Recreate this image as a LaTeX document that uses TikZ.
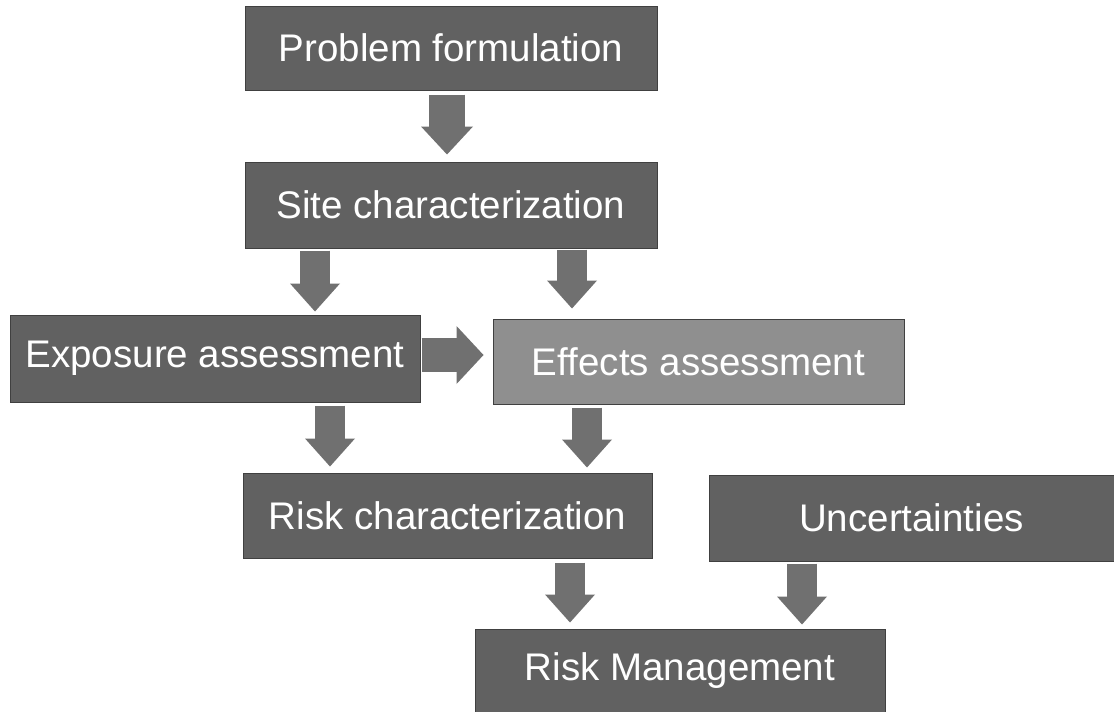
\documentclass[tikz,border=0pt]{standalone}
\usepackage{fontspec}
\setmainfont{Liberation Sans}
\usetikzlibrary{arrows.meta}
\definecolor{boxdark}{gray}{0.38}
\definecolor{boxlight}{gray}{0.56}
\definecolor{arrowgray}{gray}{0.44}
\begin{document}
\begin{tikzpicture}[x=1pt,y=-1pt,
  box/.style={fill=boxdark, draw=black!75, line width=1pt, text=white,
    font=\fontsize{38.5}{44}\selectfont, inner sep=0pt, anchor=center},
  lightbox/.style={box, fill=boxlight},
  barrow/.style={draw=arrowgray, line width=30pt, line cap=butt,
    -{Triangle[width=50pt,length=28pt,line width=0pt]}},
  barrowwide/.style={draw=arrowgray, line width=36pt, line cap=butt,
    -{Triangle[width=52pt,length=28pt,line width=0pt]}},
  harrow/.style={draw=arrowgray, line width=34pt, line cap=butt,
    -{Triangle[width=58pt,length=27pt,line width=0pt]}}]
\useasboundingbox (0,0) rectangle (1114,712);
\fill[white] (0,0) rectangle (1114,712);

\node[box, minimum width=412pt, minimum height=84pt] (prob) at (451,48) {Problem formulation};
\node[box, minimum width=412pt, minimum height=86pt] (site) at (451,205) {Site characterization};
\node[box, minimum width=410pt, minimum height=87pt] (expo) at (215,358.5) {Exposure assessment};
\node[lightbox, minimum width=411pt, minimum height=85pt] (effe) at (698.5,361.5) {Effects assessment};
\node[box, minimum width=409pt, minimum height=85pt] (risk) at (447.5,515.5) {Risk characterization};
\node[box, minimum width=405pt, minimum height=86pt] (unce) at (911.5,518) {Uncertainties};
\node[box, minimum width=410pt, minimum height=83pt] (mana) at (680,670.5) {Risk Management};

\draw[barrowwide] ([xshift=-4pt,yshift=-4pt]prob.south) -- ([xshift=-4pt,yshift=7pt]site.north);
\draw[barrow] ([xshift=-136pt,yshift=-2pt]site.south) -- ([xshift=100pt,yshift=3pt]expo.north);
\draw[barrow] ([xshift=121pt,yshift=-1pt]site.south) -- ([xshift=-126.5pt,yshift=10pt]effe.north);
\draw[harrow] ([xshift=1pt,yshift=3.5pt]expo.east) -- ([xshift=-9pt,yshift=6.5pt]effe.west);
\draw[barrow] ([xshift=115pt,yshift=-3pt]expo.south) -- ([xshift=-117.5pt,yshift=6pt]risk.north);
\draw[barrow] ([xshift=-111.5pt,yshift=-3pt]effe.south) -- ([xshift=139.5pt,yshift=5pt]risk.north);
\draw[barrow] ([xshift=122.5pt,yshift=-4pt]risk.south) -- ([xshift=-110pt,yshift=6pt]mana.north);
\draw[barrow] ([xshift=-109.5pt,yshift=-2pt]unce.south) -- ([xshift=122pt,yshift=4pt]mana.north);
\end{tikzpicture}
\end{document}
